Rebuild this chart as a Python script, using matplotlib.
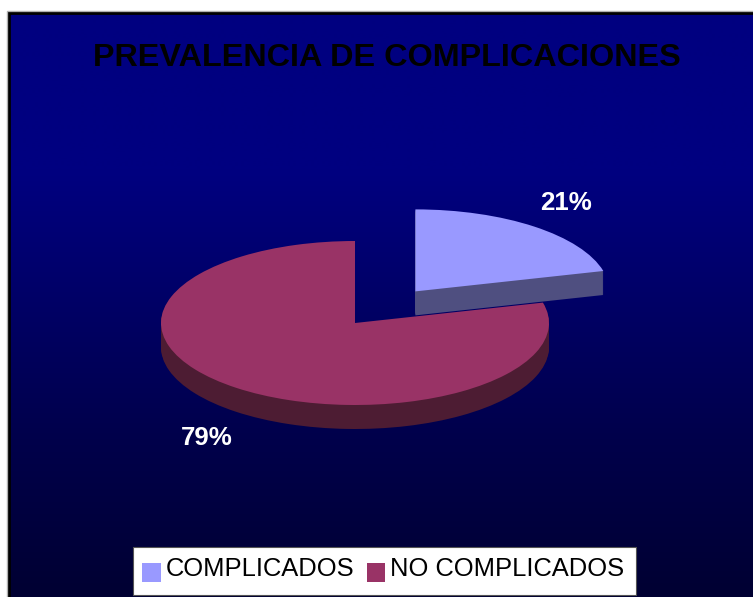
import numpy as np
import matplotlib
matplotlib.use("Agg")
import matplotlib.pyplot as plt
from matplotlib.patches import Rectangle

categories = ["COMPLICADOS", "NO COMPLICADOS"]
values = [21, 79]
top_colors = ["#9999ff", "#993366"]
side_colors = ["#4f4f80", "#4d1c33"]
title = "PREVALENCIA DE COMPLICACIONES"

W, H = 753, 597
RX, RY = 194.0, 82.0
CX, CY = 355.0, 323.0
DEPTH = 24
SLICE_DROP = [1.3, 0.0]
plt.rcParams["font.family"] = ["Liberation Sans", "DejaVu Sans"]

fig = plt.figure(figsize=(W / 100, H / 100), dpi=100, facecolor="white")


def fx(x):
    return x / W


def fy(y):
    return 1 - y / H


# Chart area frame and gradient background
frame_l, frame_t = 9, 13
bg = fig.add_axes([fx(frame_l), 0, 1 - fx(frame_l), fy(frame_t)])
ys = np.linspace(0, 1, 256)
blue = np.interp(ys, [0, 0.27, 0.72, 1], [128, 128, 76, 50])
grad = np.zeros((256, 1, 3))
grad[..., 2] = blue[:, None] / 255
bg.imshow(grad, aspect="auto", extent=[0, 1, 1, 0], interpolation="bilinear")
bg.axis("off")
fig.add_artist(Rectangle((fx(7), -0.1), 1.0, fy(11) + 0.1, transform=fig.transFigure,
                         facecolor="none", edgecolor="#b0b0b0", linewidth=1, zorder=1))
fig.add_artist(Rectangle((fx(8.5), -0.1), 1.0, fy(12.5) + 0.1, transform=fig.transFigure,
                         facecolor="none", edgecolor="black", linewidth=2, zorder=2))

# Pie axes: x unit = one radius horizontally, y unit = one radius vertically
ax = fig.add_axes([0, 0, 1, 1])
ax.patch.set_visible(False)


def pie_layer(idx, color, drop, z):
    wedges, _ = ax.pie(values, startangle=90, counterclock=False, radius=1,
                       explode=[0.508, 0],
                       center=(CX / RX, (H - CY - drop - SLICE_DROP[idx]) / RY),
                       colors=[color, color],
                       wedgeprops=dict(linewidth=0, zorder=z))
    for i, w in enumerate(wedges):
        w.set_visible(i == idx)
    return wedges


handles = [None, None]
z = 3
for idx in (1, 0):
    for d in range(DEPTH, 0, -1):
        pie_layer(idx, side_colors[idx], d, z)
    z += 1
    wedges = pie_layer(idx, top_colors[idx], 0, z)
    handles[idx] = wedges[idx]
    z += 1

ax.set_xlim(0, W / RX)
ax.set_ylim(0, H / RY)
ax.set_aspect("auto")
ax.axis("off")

fig.text(fx(387), fy(66), title, ha="center", va="baseline", fontsize=23.3,
         fontweight="bold", color="black", zorder=20)
label_pos = [(566, 203), (206.5, 438)]
for v, (lx, ly) in zip(values, label_pos):
    fig.text(fx(lx), fy(ly), f"{v}%", ha="center", va="center", fontsize=18.6,
             fontweight="bold", color="white", zorder=20)

# Legend box
fig.add_artist(Rectangle((fx(133), fy(595)), (636 - 133) / W, 48 / H,
                         transform=fig.transFigure, facecolor="white",
                         edgecolor="#555555", linewidth=0.8, zorder=19))
leg = fig.legend(handles, categories, loc="center", ncol=2,
                 bbox_to_anchor=(fx(383.5), fy(569.5)), fontsize=18.4,
                 frameon=False, handlelength=0.72, handleheight=0.72,
                 handletextpad=0.21, columnspacing=0.46, borderpad=0.35, labelspacing=0)
leg.set_zorder(20)
for h in leg.legend_handles:
    h.set_y(h.get_y() - 3.6)

fig.savefig("out.png", dpi=100)
